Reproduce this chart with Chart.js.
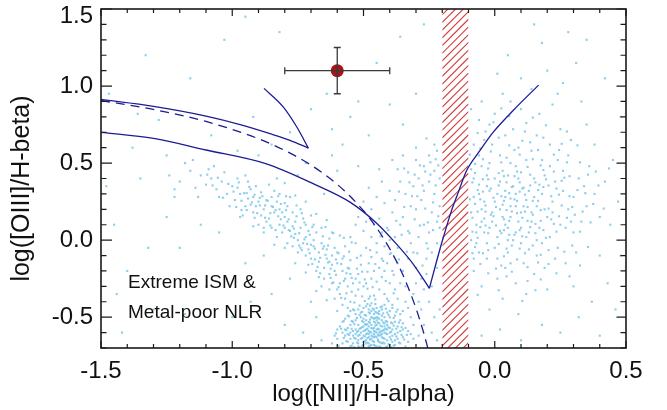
<!DOCTYPE html>
<html><head><meta charset="utf-8">
<script src="https://cdn.jsdelivr.net/npm/chart.js@4/dist/chart.umd.min.js"></script>
<style>html,body{margin:0;padding:0;background:#fff}#wrap{width:667px;height:410px}</style>
</head><body><div id="wrap"><canvas id="c" width="667" height="410"></canvas></div>
<script>
// ---- axes ----
const xRange = [-1.5, 0.5];
const yRange = [-0.7, 1.5];
const xTickValues = [-1.5, -1.0, -0.5, 0.0, 0.5];
const yTickValues = [-0.5, 0.0, 0.5, 1.0, 1.5];
const xTitle = "log([NII]/H-alpha)";
const yTitle = "log([OIII]/H-beta)";
const noteLines = ["Extreme ISM &", "Metal-poor NLR"];
const noteAnchor = [-1.397, -0.31, -0.507]; // x, y of line 1 baseline, y of line 2 baseline

// ---- galaxies (approximate) ----
const sfCore = [
[-0.47,-0.55],[-0.45,-0.58],[-0.49,-0.52],[-0.44,-0.62],[-0.51,-0.60],[-0.42,-0.50],[-0.46,-0.66],[-0.40,-0.57],[-0.53,-0.48],[-0.48,-0.63],
[-0.43,-0.45],[-0.50,-0.68],[-0.38,-0.61],[-0.55,-0.55],[-0.41,-0.69],[-0.47,-0.41],[-0.52,-0.65],[-0.36,-0.52],[-0.45,-0.50],[-0.49,-0.58],
[-0.44,-0.54],[-0.46,-0.61],[-0.42,-0.64],[-0.48,-0.47],[-0.39,-0.66],[-0.54,-0.62],[-0.50,-0.44],[-0.43,-0.59],[-0.37,-0.56],[-0.57,-0.51],
[-0.45,-0.69],[-0.41,-0.53],[-0.52,-0.55],[-0.48,-0.67],[-0.44,-0.48],[-0.35,-0.63],[-0.46,-0.57],[-0.50,-0.62],[-0.40,-0.46],[-0.56,-0.66],
[-0.42,-0.56],[-0.47,-0.60],[-0.53,-0.58],[-0.39,-0.54],[-0.45,-0.44],[-0.49,-0.65],[-0.43,-0.67],[-0.51,-0.50],[-0.38,-0.68],[-0.58,-0.60],
[-0.44,-0.58],[-0.48,-0.53],[-0.41,-0.61],[-0.46,-0.48],[-0.52,-0.69],[-0.36,-0.59],[-0.55,-0.46],[-0.47,-0.64],[-0.42,-0.42],[-0.50,-0.56],
[-0.45,-0.63],[-0.40,-0.50],[-0.49,-0.61],[-0.43,-0.52],[-0.54,-0.67],[-0.37,-0.64],[-0.47,-0.50],[-0.51,-0.57],[-0.44,-0.66],[-0.59,-0.56],
[-0.41,-0.58],[-0.46,-0.53],[-0.52,-0.62],[-0.39,-0.62],[-0.48,-0.45],[-0.34,-0.57],[-0.56,-0.61],[-0.43,-0.49],[-0.50,-0.66],[-0.45,-0.60],
[-0.47,-0.68],[-0.42,-0.60],[-0.53,-0.52],[-0.38,-0.49],[-0.49,-0.49],[-0.44,-0.51],[-0.55,-0.64],[-0.40,-0.63],[-0.46,-0.45],[-0.51,-0.64],
[-0.33,-0.66],[-0.48,-0.59],[-0.43,-0.63],[-0.57,-0.58],[-0.41,-0.47],[-0.50,-0.53],[-0.36,-0.67],[-0.45,-0.55],[-0.52,-0.45],[-0.60,-0.64],
[-0.44,-0.69],[-0.47,-0.57],[-0.39,-0.58],[-0.54,-0.59],[-0.42,-0.67],[-0.49,-0.55],[-0.35,-0.54],[-0.46,-0.63],[-0.58,-0.53],[-0.41,-0.55],
[-0.48,-0.69],[-0.43,-0.56],[-0.53,-0.61],[-0.37,-0.60],[-0.45,-0.47],[-0.50,-0.59],[-0.40,-0.68],[-0.56,-0.49],[-0.44,-0.60],[-0.47,-0.46],
[-0.61,-0.62],[-0.32,-0.61],[-0.52,-0.67],[-0.38,-0.53],[-0.49,-0.43],[-0.42,-0.54],[-0.55,-0.69],[-0.46,-0.59],[-0.34,-0.69],[-0.51,-0.47],
[-0.60,-0.58],[-0.39,-0.44],[-0.48,-0.61],[-0.44,-0.46],[-0.53,-0.64],[-0.36,-0.48],[-0.57,-0.62],[-0.43,-0.61],[-0.50,-0.51],[-0.41,-0.65],
[-0.62,-0.67],[-0.35,-0.58],[-0.46,-0.51],[-0.54,-0.53],[-0.40,-0.60],[-0.47,-0.62],[-0.31,-0.64],[-0.58,-0.67],[-0.45,-0.52],[-0.52,-0.59],
[-0.37,-0.45],[-0.49,-0.67],[-0.43,-0.43],[-0.56,-0.57],[-0.38,-0.65],[-0.48,-0.56],[-0.42,-0.58],[-0.55,-0.60],[-0.33,-0.59],[-0.46,-0.68],
[-0.465,-0.575],[-0.455,-0.535],[-0.485,-0.605],[-0.445,-0.655],[-0.505,-0.565],[-0.425,-0.585],[-0.475,-0.685],[-0.415,-0.525],[-0.535,-0.635],[-0.495,-0.485],
[-0.435,-0.615],[-0.515,-0.695],[-0.395,-0.595],[-0.545,-0.525],[-0.455,-0.465],[-0.485,-0.545],[-0.405,-0.675],[-0.525,-0.595],[-0.465,-0.625],[-0.445,-0.505],
[-0.375,-0.575],[-0.565,-0.585],[-0.435,-0.695],[-0.495,-0.655],[-0.415,-0.445],[-0.475,-0.515],[-0.355,-0.615],[-0.545,-0.685],[-0.455,-0.595],[-0.505,-0.465],
[-0.425,-0.635],[-0.485,-0.575],[-0.385,-0.505],[-0.535,-0.545],[-0.465,-0.445],[-0.445,-0.575],[-0.395,-0.645],[-0.575,-0.635],[-0.475,-0.535],[-0.515,-0.615],
[-0.435,-0.555],[-0.455,-0.685],[-0.365,-0.535],[-0.555,-0.495],[-0.495,-0.625],[-0.405,-0.565],[-0.485,-0.415],[-0.425,-0.475],[-0.525,-0.665],[-0.445,-0.645],
[-0.345,-0.645],[-0.585,-0.575],[-0.465,-0.505],[-0.415,-0.695],[-0.505,-0.525],[-0.375,-0.625],[-0.535,-0.455],[-0.455,-0.625],[-0.485,-0.665],[-0.435,-0.435],
[-0.595,-0.685],[-0.385,-0.685],[-0.515,-0.575],[-0.475,-0.475],[-0.425,-0.665],[-0.555,-0.615],[-0.445,-0.535],[-0.365,-0.665],[-0.495,-0.545],[-0.405,-0.485],
[-0.465,-0.655],[-0.525,-0.505],[-0.435,-0.595],[-0.575,-0.525],[-0.385,-0.555],[-0.485,-0.635],[-0.455,-0.555],[-0.415,-0.605],[-0.545,-0.575],[-0.335,-0.615],
[-0.505,-0.685],[-0.445,-0.475],[-0.395,-0.535],[-0.475,-0.595],[-0.425,-0.535],[-0.565,-0.655],[-0.455,-0.415],[-0.355,-0.565],[-0.515,-0.485],[-0.605,-0.605],
[-0.475,-0.645],[-0.435,-0.665],[-0.495,-0.585],[-0.415,-0.575],[-0.535,-0.695],[-0.375,-0.465],[-0.455,-0.505],[-0.505,-0.635],[-0.445,-0.615],[-0.395,-0.695]
];
const sfBand = [
[-0.58,-0.20],[-0.60,-0.15],[-0.56,-0.30],[-0.62,-0.10],[-0.57,-0.25],[-0.59,-0.35],[-0.55,-0.40],[-0.63,-0.22],[-0.61,-0.05],[-0.54,-0.28],
[-0.66,-0.02],[-0.64,-0.12],[-0.68,0.05],[-0.65,-0.18],[-0.67,-0.08],[-0.69,0.10],[-0.62,-0.28],[-0.70,-0.03],[-0.66,0.08],[-0.63,0.01],
[-0.72,0.02],[-0.74,0.08],[-0.71,-0.06],[-0.73,0.14],[-0.75,0.00],[-0.76,0.12],[-0.70,0.16],[-0.78,0.06],[-0.72,-0.10],[-0.77,0.18],
[-0.80,0.15],[-0.82,0.10],[-0.79,0.22],[-0.84,0.18],[-0.81,0.05],[-0.83,0.25],[-0.86,0.14],[-0.78,0.28],[-0.85,0.22],[-0.88,0.20],
[-0.90,0.25],[-0.92,0.18],[-0.89,0.31],[-0.94,0.27],[-0.91,0.35],[-0.87,0.12],[-0.95,0.22],[-0.93,0.33],[-0.97,0.30],[-0.99,0.26],
[-1.00,0.35],[-1.02,0.30],[-0.98,0.40],[-1.04,0.38],[-1.01,0.22],[-1.06,0.33],[-1.03,0.44],[-1.08,0.40],[-1.10,0.36],[-1.12,0.42],
[-0.57,-0.38],[-0.59,-0.28],[-0.61,-0.20],[-0.58,-0.12],[-0.55,-0.22],[-0.60,-0.32],[-0.56,-0.44],[-0.53,-0.36],[-0.62,-0.16],[-0.64,-0.06],
[-0.65,-0.25],[-0.67,-0.14],[-0.69,-0.04],[-0.63,-0.32],[-0.68,-0.20],[-0.71,0.06],[-0.66,-0.30],[-0.70,-0.12],[-0.73,-0.02],[-0.75,-0.08],
[-0.74,0.20],[-0.76,0.04],[-0.79,0.12],[-0.77,-0.04],[-0.80,0.24],[-0.82,0.30],[-0.81,0.18],[-0.83,0.02],[-0.85,0.08],[-0.84,0.32],
[-0.87,0.26],[-0.89,0.16],[-0.86,0.36],[-0.90,0.10],[-0.92,0.28],[-0.94,0.38],[-0.96,0.16],[-0.93,0.23],[-0.98,0.34],[-0.95,0.42],
[-0.54,-0.45],[-0.52,-0.32],[-0.56,-0.18],[-0.58,-0.42],[-0.60,-0.08],[-0.61,-0.38],[-0.63,-0.14],[-0.65,-0.04],[-0.67,-0.24],[-0.69,0.00],
[-0.72,0.10],[-0.71,-0.16],[-0.74,-0.05],[-0.77,0.09],[-0.79,-0.02],[-0.80,0.08],[-0.82,0.20],[-0.85,0.28],[-0.88,0.08],[-0.91,0.22],
[-1.05,0.28],[-1.09,0.46],[-1.14,0.34],[-1.16,0.45],[-1.20,0.38],[-1.18,0.50],[-1.24,0.42],[-1.13,0.28],[-1.07,0.48],[-1.22,0.33],
[-0.53,-0.25],[-0.55,-0.13],[-0.57,-0.04],[-0.59,0.03],[-0.62,0.05],[-0.64,0.13],[-0.68,0.17],[-0.72,0.25],[-0.76,0.29],[-0.80,0.37],
[-0.60,-0.46],[-0.64,-0.39],[-0.68,-0.33],[-0.72,-0.21],[-0.76,-0.15],[-0.80,-0.05],[-0.84,-0.03],[-0.88,0.05],[-0.92,0.09],[-0.97,0.15],
[-0.575,-0.265],[-0.605,-0.225],[-0.585,-0.155],[-0.625,-0.185],[-0.565,-0.345],[-0.645,-0.095],[-0.595,-0.085],[-0.615,-0.275],[-0.555,-0.185],[-0.635,-0.035],
[-0.665,-0.115],[-0.685,-0.055],[-0.655,0.025],[-0.705,0.035],[-0.675,-0.175],[-0.695,0.085],[-0.715,-0.025],[-0.725,0.115],[-0.745,0.045],[-0.735,-0.065],
[-0.765,0.075],[-0.755,0.155],[-0.785,0.135],[-0.775,0.025],[-0.795,0.195],[-0.805,0.095],[-0.815,0.235],[-0.825,0.155],[-0.835,0.065],[-0.845,0.215],
[-0.855,0.175],[-0.865,0.255],[-0.875,0.145],[-0.885,0.285],[-0.895,0.225],[-0.905,0.175],[-0.915,0.295],[-0.925,0.245],[-0.935,0.345],[-0.945,0.195],
[-0.955,0.305],[-0.965,0.255],[-0.975,0.375],[-0.985,0.215],[-0.995,0.315],[-1.015,0.365],[-1.035,0.275],[-1.055,0.405],[-1.075,0.355],[-1.095,0.425],
[-0.545,-0.335],[-0.565,-0.215],[-0.585,-0.375],[-0.605,-0.125],[-0.625,-0.245],[-0.545,-0.245],[-0.665,-0.215],[-0.635,-0.145],[-0.595,-0.305],[-0.575,-0.105],
[-0.685,-0.125],[-0.705,-0.085],[-0.655,-0.055],[-0.725,0.005],[-0.745,-0.035],[-0.695,-0.155],[-0.765,0.015],[-0.735,0.175],[-0.785,0.065],[-0.755,0.225],
[-0.815,0.135],[-0.795,0.285],[-0.835,0.195],[-0.855,0.095],[-0.875,0.225],[-0.825,0.285],[-0.895,0.275],[-0.915,0.145],[-0.945,0.305],[-0.965,0.195],
[-0.525,-0.185],[-0.535,-0.405],[-0.555,-0.075],[-0.515,-0.275],[-0.505,-0.365],[-0.525,-0.115],[-0.545,-0.015],[-0.575,0.015],[-0.615,0.045],[-0.645,0.085],
[-0.495,-0.395],[-0.505,-0.205],[-0.485,-0.315],[-0.515,-0.425],[-0.495,-0.255],[-0.475,-0.365],[-0.485,-0.205],[-0.465,-0.305],[-0.455,-0.385],[-0.475,-0.425]
];
const composite = [
[-0.50,-0.30],[-0.47,-0.25],[-0.44,-0.32],[-0.42,-0.20],[-0.48,-0.15],[-0.45,-0.08],[-0.40,-0.28],[-0.52,-0.22],[-0.46,-0.36],[-0.43,-0.12],
[-0.49,-0.05],[-0.41,-0.38],[-0.38,-0.32],[-0.47,0.02],[-0.44,-0.18],[-0.51,-0.10],[-0.39,-0.42],[-0.42,-0.04],[-0.48,-0.38],[-0.45,-0.27],
[-0.53,-0.02],[-0.50,0.06],[-0.46,0.10],[-0.43,0.05],[-0.41,-0.15],[-0.37,-0.38],[-0.36,-0.28],[-0.40,-0.09],[-0.44,0.14],[-0.49,0.12],
[-0.35,-0.20],[-0.33,-0.12],[-0.37,-0.05],[-0.34,-0.30],[-0.38,0.02],[-0.36,0.10],[-0.32,-0.02],[-0.39,0.18],[-0.41,0.08],[-0.35,0.15],
[-0.30,-0.18],[-0.31,-0.08],[-0.29,0.02],[-0.28,-0.25],[-0.33,0.06],[-0.27,0.10],[-0.30,0.20],[-0.26,-0.12],[-0.28,0.26],[-0.32,0.22],
[-0.25,0.05],[-0.24,0.18],[-0.26,-0.02],[-0.23,0.30],[-0.25,0.38],[-0.27,0.32],[-0.22,0.12],[-0.29,0.40],[-0.24,-0.08],[-0.23,0.45],
[-0.31,-0.35],[-0.33,-0.44],[-0.30,-0.28],[-0.32,-0.50],[-0.29,-0.40],[-0.27,-0.32],[-0.34,-0.40],[-0.28,-0.45],[-0.35,-0.46],[-0.31,-0.55],
[-0.38,0.26],[-0.34,0.30],[-0.31,0.35],[-0.36,0.38],[-0.42,0.24],[-0.27,0.48],[-0.33,0.44],[-0.30,0.52],[-0.25,0.55],[-0.22,0.58],
[-0.55,0.02],[-0.52,0.15],[-0.47,0.20],[-0.45,0.28],[-0.50,0.25],[-0.40,0.32],[-0.43,0.38],[-0.37,0.46],[-0.48,0.34],[-0.53,0.10],
[-0.21,0.22],[-0.22,-0.02],[-0.21,0.40],[-0.23,0.62],[-0.26,0.66],[-0.30,0.60],[-0.35,0.55],[-0.39,0.52],[-0.44,0.46],[-0.21,0.08],
[-0.46,-0.20],[-0.43,-0.24],[-0.39,-0.20],[-0.47,-0.11],[-0.42,-0.35],[-0.49,-0.28],[-0.37,-0.15],[-0.45,-0.02],[-0.40,0.00],[-0.51,-0.16],
[-0.26,-0.22],[-0.24,-0.30],[-0.25,-0.40],[-0.22,-0.18],[-0.27,-0.55],[-0.29,-0.62],[-0.24,-0.60],[-0.21,-0.45],[-0.23,-0.50],[-0.22,-0.65],
[-0.215,0.155],[-0.235,0.245],[-0.255,0.115],[-0.225,0.355],[-0.245,0.425],[-0.265,0.205],[-0.285,0.095],[-0.275,0.355],[-0.295,0.285],[-0.305,0.135],
[-0.325,0.045],[-0.315,0.285],[-0.345,0.215],[-0.335,-0.075],[-0.355,0.035],[-0.365,-0.125],[-0.375,0.125],[-0.295,-0.085],[-0.275,-0.165],[-0.255,-0.055],
[-0.235,0.065],[-0.215,0.485],[-0.225,0.525],[-0.245,0.505],[-0.265,0.445],[-0.285,0.485],[-0.305,0.425],[-0.325,0.375],[-0.345,0.465],[-0.365,0.315],
[-0.385,-0.225],[-0.395,-0.085],[-0.415,-0.265],[-0.405,0.065],[-0.425,-0.135],[-0.435,0.025],[-0.455,-0.155],[-0.475,-0.065],[-0.385,-0.345],[-0.405,-0.395]
];
const agnCloud = [
[-0.05,0.20],[0.00,0.25],[0.03,0.15],[-0.02,0.32],[0.06,0.22],[0.08,0.30],[-0.07,0.10],[0.02,0.38],[0.10,0.18],[-0.04,0.05],
[0.05,0.08],[0.12,0.26],[-0.08,0.28],[0.01,0.02],[0.09,0.40],[-0.03,0.42],[0.14,0.12],[0.04,0.32],[-0.06,0.36],[0.07,0.00],
[0.11,0.34],[-0.01,0.12],[0.16,0.22],[0.03,0.45],[-0.09,0.18],[0.13,0.05],[0.00,-0.05],[0.06,0.15],[-0.04,0.25],[0.18,0.30],
[0.08,0.48],[0.15,0.40],[-0.02,0.50],[0.20,0.15],[0.05,-0.08],[-0.07,-0.02],[0.10,-0.02],[0.17,0.08],[0.02,0.55],[0.12,0.52],
[-0.05,0.48],[0.22,0.25],[0.19,0.42],[0.25,0.10],[0.09,0.60],[0.14,0.58],[-0.01,0.62],[0.04,0.68],[0.18,0.52],[0.23,0.38],
[0.28,0.20],[0.26,0.32],[0.30,0.05],[0.21,0.02],[0.24,-0.05],[0.16,-0.10],[0.11,-0.15],[0.04,-0.18],[-0.03,-0.12],[-0.08,-0.20],
[0.01,-0.25],[0.08,-0.28],[0.15,-0.22],[0.19,-0.18],[-0.05,-0.30],[0.12,-0.35],[0.03,-0.38],[0.20,-0.32],[-0.02,-0.45],[0.09,-0.48],
[0.07,0.72],[0.12,0.76],[0.16,0.68],[0.21,0.62],[0.10,0.85],[0.17,0.82],[0.06,0.90],[0.25,0.72],[0.22,0.88],[0.28,0.55],
[0.32,0.40],[0.35,0.22],[0.33,0.12],[0.38,0.30],[0.31,-0.08],[0.36,0.48],[0.40,0.15],[0.29,0.65],[0.42,0.38],[0.27,-0.15],
[-0.04,0.14],[0.02,0.20],[0.07,0.35],[-0.06,0.30],[0.04,0.10],[0.11,0.22],[0.00,0.40],[0.06,0.27],[-0.02,0.08],[0.09,0.12],
[0.13,0.32],[-0.08,0.40],[0.01,0.30],[0.05,0.42],[0.08,0.05],[-0.05,0.12],[0.15,0.28],[0.03,0.23],[-0.01,0.18],[0.10,0.44],
[0.14,0.18],[0.17,0.36],[0.06,0.50],[-0.03,0.35],[0.02,0.06],[0.12,0.02],[0.19,0.20],[-0.07,0.05],[0.04,0.28],[0.08,0.22],
[-0.09,0.46],[-0.06,0.55],[-0.04,0.65],[-0.08,0.62],[-0.02,0.75],[0.00,0.82],[-0.06,0.78],[0.03,0.95],[-0.05,0.90],[-0.09,0.85],
[0.26,0.45],[0.30,0.28],[0.24,0.52],[0.34,0.35],[0.22,0.18],[0.27,0.08],[0.23,-0.12],[0.18,-0.02],[0.29,0.12],[0.21,0.48],
[-0.09,0.00],[-0.06,-0.08],[-0.03,-0.02],[0.01,-0.12],[0.05,0.00],[0.10,0.08],[0.13,-0.06],[0.16,0.00],[-0.08,-0.12],[0.06,-0.15],
[0.44,0.10],[0.45,0.52],[0.40,-0.10],[0.38,0.62],[0.47,0.25],[0.35,0.75],[0.33,0.90],[0.43,-0.28],[0.37,-0.40],[0.30,-0.30],
[0.10,1.05],[0.14,0.98],[0.20,1.10],[0.26,1.02],[0.31,1.15],[0.05,1.20],[0.18,1.28],[0.28,1.35],[0.01,1.08],[0.24,0.95],
[-0.015,0.165],[0.025,0.285],[0.045,0.195],[-0.035,0.225],[0.065,0.345],[0.085,0.255],[-0.055,0.085],[0.015,0.355],[0.105,0.145],[-0.025,0.045],
[0.035,0.065],[0.125,0.215],[-0.075,0.235],[0.005,0.095],[0.095,0.375],[-0.045,0.395],[0.145,0.165],[0.055,0.305],[-0.065,0.325],[0.075,0.035],
[0.115,0.295],[-0.005,0.275],[0.165,0.255],[0.035,0.415],[-0.085,0.145],[0.135,0.085],[0.015,-0.025],[0.055,0.125],[-0.035,0.185],[0.185,0.345],
[0.085,0.445],[0.155,0.375],[-0.025,0.465],[0.205,0.205],[0.045,-0.055],[-0.065,0.015],[0.105,0.025],[0.175,0.125],[0.025,0.505],[0.125,0.475],
[-0.045,0.525],[0.215,0.285],[0.195,0.395],[0.245,0.155],[0.095,0.555],[0.145,0.525],[-0.015,0.575],[0.055,0.615],[0.175,0.485],[0.235,0.335],
[0.065,0.185],[0.005,0.215],[-0.015,0.335],[0.075,0.265],[0.035,0.135],[0.115,0.185],[-0.055,0.265],[0.095,0.315],[0.025,0.045],[0.135,0.355],
[0.155,0.045],[0.065,-0.035],[-0.075,-0.045],[0.115,-0.085],[0.185,0.065],[0.225,0.105],[0.255,0.225],[0.205,-0.065],[0.165,-0.145],[0.085,-0.125],
[0.025,-0.165],[-0.045,-0.085],[0.045,-0.235],[0.125,-0.265],[-0.025,-0.215],[0.175,-0.255],[0.105,-0.395],[0.015,-0.325],[0.155,-0.325],[-0.065,-0.355],
[-0.085,0.375],[-0.075,0.495],[-0.055,0.595],[-0.035,0.705],[-0.005,0.765],[0.025,0.855],[0.055,0.805],[0.115,0.705],[0.145,0.795],[0.195,0.745],
[0.265,0.405],[0.285,0.285],[0.305,0.165],[0.325,0.055],[0.275,0.505],[0.315,0.615],[0.345,0.305],[0.365,0.115],[0.255,0.625],[0.295,-0.035],
[-0.095,0.265],[-0.085,0.055],[-0.075,0.435],[-0.065,0.185],[-0.045,0.315],[-0.035,0.095],[-0.025,0.395],[-0.005,0.155],[0.015,0.435],[0.035,0.255],
[0.045,0.375],[0.055,0.035],[0.075,0.415],[0.085,0.175],[0.095,0.065],[0.105,0.335],[0.125,0.125],[0.135,0.425],[0.145,0.255],[0.155,0.105],
[0.165,0.325],[0.175,0.195],[0.185,0.455],[0.195,0.015],[0.205,0.355],[0.215,0.135],[0.225,0.445],[0.235,0.055],[0.245,0.295],[0.255,0.385],
[0.275,0.145],[0.285,0.415],[0.295,0.215],[0.315,0.325],[0.335,0.185],[0.355,0.425],[0.375,0.235],[0.395,0.355],[0.415,0.205],[0.435,0.465],
[-0.085,-0.085],[-0.055,-0.155],[-0.025,-0.065],[0.005,-0.185],[0.035,-0.105],[0.065,-0.205],[0.095,-0.055],[0.125,-0.175],[0.145,-0.035],[0.175,-0.095],
[0.205,-0.155],[0.235,-0.215],[0.265,-0.075],[0.285,-0.235],[0.325,-0.165],[0.355,-0.045],[0.045,0.535],[0.105,0.645],[0.165,0.585],[0.225,0.555],
[-0.095,0.555],[-0.065,0.695],[0.015,0.665],[0.075,0.585],[0.135,0.635],[0.185,0.665],[0.245,0.585],[0.275,0.705],[0.325,0.505],[0.385,0.445]
];
const sparseField = [
[-1.45,0.10],[-1.40,-0.20],[-1.35,0.40],[-1.30,-0.45],[-1.25,0.15],[-1.20,-0.05],[-1.15,0.52],[-1.10,-0.30],[-1.05,0.05],[-1.00,-0.50],
[-0.95,-0.15],[-0.90,0.55],[-0.85,-0.35],[-0.80,-0.55],[-0.75,0.42],[-0.70,-0.40],[-0.65,0.30],[-0.60,0.45],[-1.38,0.60],[-1.28,0.78],
[-1.42,-0.60],[-1.32,-0.05],[-1.22,0.28],[-1.18,-0.48],[-1.12,0.10],[-1.02,-0.25],[-0.98,0.58],[-0.93,-0.40],[-0.88,-0.10],[-0.83,0.40],
[-0.78,-0.25],[-0.72,0.50],[-0.68,-0.50],[-0.62,0.55],[-0.58,0.62],[-0.52,0.48],[-0.73,-0.60],[-0.66,-0.65],[-1.48,0.35],[-1.44,-0.35],
[-1.33,1.20],[-1.16,1.05],[-1.03,1.30],[-0.95,1.45],[-0.82,1.35],[-0.70,0.85],[-0.64,0.95],[-0.55,0.80],[-0.48,0.68],[-0.45,1.15],
[-0.40,0.88],[-0.36,1.32],[-0.30,0.95],[-0.27,1.40],[-0.15,1.25],[-0.12,1.40],[-0.35,0.75],[-0.52,0.90],[-0.62,0.72],[-0.78,0.70],
[-0.85,0.62],[-0.92,0.80],[-1.08,0.68],[-1.25,0.55],[-1.47,0.95],[-1.36,0.82],[0.15,1.40],[0.35,1.30],[0.42,1.05],[0.48,0.80],
[-0.12,-0.55],[-0.05,-0.62],[0.02,-0.58],[0.10,-0.65],[0.18,-0.55],[0.25,-0.60],[0.32,-0.50],[0.40,-0.62],[0.46,-0.45],[0.48,-0.10]
];

// ---- dividing curves ----
const upperSolid = [[-1.5,0.913],[-1.3,0.868],[-1.1,0.805],[-0.97,0.750],[-0.85,0.688],[-0.78,0.648],[-0.71,0.597]];
const upperBranch = [[-0.879,0.985],[-0.806,0.865],[-0.754,0.734],[-0.71,0.597]];
const lowerSolid = [[-1.5,0.70],[-1.3,0.66],[-1.1,0.585],[-0.87,0.495],[-0.69,0.365],[-0.55,0.245],[-0.45,0.11],[-0.374,-0.026],[-0.31,-0.157],[-0.249,-0.313]];
const vBranch = [[-0.249,-0.313],[-0.222,-0.14],[-0.196,0.017],[-0.165,0.19],[-0.139,0.31],[-0.107,0.452],[-0.056,0.582],[-0.005,0.702],[0.071,0.843],[0.167,1.006]];
const dashedCurve = [[-1.5,0.906],[-1.3,0.848],[-1.1,0.770],[-0.9,0.658],[-0.8,0.582],[-0.7,0.487],[-0.6,0.362],[-0.5,0.191],[-0.45,0.080],[-0.4,-0.056],[-0.35,-0.225],[-0.3,-0.443],[-0.27,-0.606],[-0.255,-0.70]];

// ---- marked object and band ----
const objPoint = [-0.60, 1.10];
const objErrX = [-0.80, -0.40];
const objErrY = [0.95, 1.25];
const bandRange = [-0.2, -0.1];

const FONT = '"Liberation Sans", Arial, Helvetica, sans-serif';
const toXY = a => a.map(p => ({x: p[0], y: p[1]}));
const galaxies = [].concat(sfCore, sfBand, composite, agnCloud, sparseField);
const lineColor = '#1c1c94';
const lineDs = (pts, dash) => ({data: toXY(pts), showLine: true, pointRadius: 0, borderColor: lineColor,
  borderWidth: 1.3, borderDash: dash || [], cubicInterpolationMode: 'monotone', fill: false, order: 5});

const decor = {
  id: 'decor',
  afterDatasetDraw(chart, args) {
    if (args.index !== 0) return;
    const {ctx, chartArea: a, scales: {x}} = chart;
    const x0 = x.getPixelForValue(bandRange[0]), x1 = x.getPixelForValue(bandRange[1]);
    const w = x1 - x0;
    ctx.save();
    ctx.beginPath(); ctx.rect(x0, a.top, w, a.bottom - a.top); ctx.clip();
    ctx.fillStyle = '#ffffff'; ctx.fillRect(x0, a.top, w, a.bottom - a.top);
    ctx.strokeStyle = '#d23c3c'; ctx.lineWidth = 1.1;
    for (let yy = a.top - 2; yy <= a.bottom + w + 8; yy += 7.7) {
      ctx.beginPath(); ctx.moveTo(x0, yy); ctx.lineTo(x1, yy - w); ctx.stroke();
    }
    ctx.restore();
  },
  afterDatasetsDraw(chart) {
    const {ctx, chartArea: a, scales: {x, y}} = chart;
    ctx.save();
    // error bars
    const px = x.getPixelForValue(objPoint[0]), py = y.getPixelForValue(objPoint[1]);
    const ex0 = x.getPixelForValue(objErrX[0]), ex1 = x.getPixelForValue(objErrX[1]);
    const ey0 = y.getPixelForValue(objErrY[0]), ey1 = y.getPixelForValue(objErrY[1]);
    ctx.strokeStyle = '#3a3a3a'; ctx.lineWidth = 1.3;
    ctx.beginPath();
    ctx.moveTo(ex0, py); ctx.lineTo(ex1, py);
    ctx.moveTo(px, ey0); ctx.lineTo(px, ey1);
    ctx.moveTo(ex0, py - 3.5); ctx.lineTo(ex0, py + 3.5);
    ctx.moveTo(ex1, py - 3.5); ctx.lineTo(ex1, py + 3.5);
    ctx.moveTo(px - 3.5, ey0); ctx.lineTo(px + 3.5, ey0);
    ctx.moveTo(px - 3.5, ey1); ctx.lineTo(px + 3.5, ey1);
    ctx.stroke();
    // note
    ctx.fillStyle = '#111'; ctx.font = '19px ' + FONT; ctx.textBaseline = 'alphabetic'; ctx.textAlign = 'left';
    ctx.fillText(noteLines[0], x.getPixelForValue(noteAnchor[0]), y.getPixelForValue(noteAnchor[1]));
    ctx.fillText(noteLines[1], x.getPixelForValue(noteAnchor[0]), y.getPixelForValue(noteAnchor[2]));
    // frame
    ctx.strokeStyle = '#1a1a1a'; ctx.lineWidth = 1.6;
    ctx.strokeRect(a.left, a.top, a.right - a.left, a.bottom - a.top);
    // ticks
    ctx.lineWidth = 1.2;
    ctx.beginPath();
    for (let k = Math.round(xRange[0] * 10); k <= Math.round(xRange[1] * 10); k++) {
      const v = k / 10, major = k % 5 === 0, p = x.getPixelForValue(v), L = major ? 7 : 4;
      ctx.moveTo(p, a.bottom); ctx.lineTo(p, a.bottom - L);
      ctx.moveTo(p, a.top); ctx.lineTo(p, a.top + L);
    }
    for (let k = Math.round(yRange[0] * 10); k <= Math.round(yRange[1] * 10); k++) {
      const v = k / 10, major = k % 5 === 0, p = y.getPixelForValue(v);
      ctx.moveTo(a.left, p); ctx.lineTo(a.left + (major ? 11 : 5.5), p);
      ctx.moveTo(a.right, p); ctx.lineTo(a.right - (major ? 9.5 : 5.5), p);
    }
    ctx.stroke();
    // y tick labels (top one kept inside the picture, as in the original)
    ctx.fillStyle = '#111'; ctx.font = '24px ' + FONT; ctx.textAlign = 'right'; ctx.textBaseline = 'middle';
    yTickValues.forEach(v => {
      ctx.fillText(v.toFixed(1), a.left - 8, Math.max(y.getPixelForValue(v), a.top + 7));
    });
    // y title
    ctx.font = '25px ' + FONT; ctx.textAlign = 'center'; ctx.textBaseline = 'middle';
    ctx.translate(22, (a.top + a.bottom) / 2 + 10); ctx.rotate(-Math.PI / 2);
    ctx.fillText(yTitle, 0, 0);
    ctx.restore();
  }
};

new Chart(document.getElementById('c'), {
  type: 'scatter',
  data: {
    datasets: [
      {data: toXY(galaxies), pointStyle: 'rect', pointRadius: 1.5, pointBorderWidth: 0,
       backgroundColor: 'rgba(128,201,234,0.9)', borderWidth: 0, order: 10},
      lineDs(upperSolid), lineDs(upperBranch), lineDs(lowerSolid), lineDs(vBranch),
      lineDs(dashedCurve, [9, 6]),
      {data: [{x: objPoint[0], y: objPoint[1]}], pointRadius: 6.5, backgroundColor: '#a3161a',
       borderWidth: 0, pointBorderWidth: 0, order: 0}
    ]
  },
  options: {
    responsive: false, animation: false, devicePixelRatio: 1,
    layout: {padding: {top: 9, right: 41, left: 0, bottom: 0}},
    plugins: {legend: {display: false}, tooltip: {enabled: false}},
    scales: {
      x: {
        type: 'linear', min: xRange[0], max: xRange[1],
        afterBuildTicks: s => { s.ticks = xTickValues.map(v => ({value: v})); },
        afterFit: s => { s.height = 62; s.paddingLeft = 0; s.paddingRight = 0; },
        grid: {display: false, drawTicks: false}, border: {display: false},
        ticks: {padding: 9, color: '#111', font: {family: FONT, size: 24}, callback: v => v.toFixed(1), maxRotation: 0, autoSkip: false},
        title: {display: true, text: xTitle, color: '#111', font: {family: FONT, size: 24}, padding: {top: 0, bottom: 1}}
      },
      y: {
        type: 'linear', min: yRange[0], max: yRange[1],
        afterBuildTicks: s => { s.ticks = yTickValues.map(v => ({value: v})); },
        afterFit: s => { s.width = 101; s.paddingTop = 0; s.paddingBottom = 0; },
        grid: {display: false, drawTicks: false}, border: {display: false},
        ticks: {display: false},
        title: {display: false}
      }
    }
  },
  plugins: [decor]
});
</script>
</body></html>
